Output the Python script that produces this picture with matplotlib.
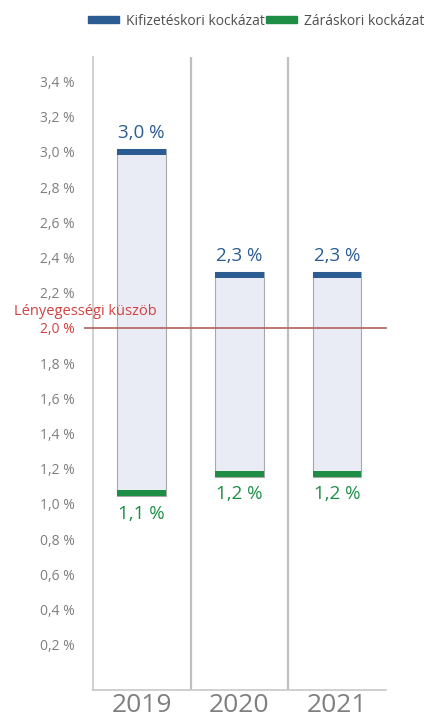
import matplotlib
matplotlib.use("Agg")
import matplotlib.pyplot as plt
from matplotlib.patches import Patch

plt.rcParams['font.family'] = ['Open Sans', 'DejaVu Sans']

years = ['2019', '2020', '2021']
kifizeteskori = [3.0, 2.3, 2.3]     # top (blue) value
zaraskori = [1.06, 1.17, 1.17]      # bottom (green) value
threshold = 2.0
yticks = [0.2, 0.4, 0.6, 0.8, 1.0, 1.2, 1.4, 1.6, 1.8, 2.0, 2.2, 2.4, 2.6, 2.8, 3.0, 3.2, 3.4]

blue = '#2B5C92'
green = '#1E8E46'
red = '#D2403F'
grey = '#7F7F7F'
cap = 0.034

fig = plt.figure(figsize=(4.34, 7.26), dpi=100)
ax = fig.add_axes([0.214, 0.0496, 0.675, 0.872])

x = list(range(len(years)))
heights = [h - l + cap for h, l in zip(kifizeteskori, zaraskori)]
bottoms = [l - cap / 2 for l in zaraskori]
ax.bar(x, heights, bottom=bottoms, width=0.5, color='#E9EBF5', edgecolor='#A8A8A8', linewidth=0.8, zorder=2)
ax.bar(x, [cap] * 3, bottom=[v - cap / 2 for v in kifizeteskori], width=0.5, color=blue, zorder=3)
ax.bar(x, [cap] * 3, bottom=[v - cap / 2 for v in zaraskori], width=0.5, color=green, zorder=3)

for xi, v in zip(x, kifizeteskori):
    ax.text(xi, v + 0.055, f"{v:.1f} %".replace('.', ','), ha='center', va='bottom',
            color=blue, fontsize=13.5)
for xi, v in zip(x, zaraskori):
    ax.text(xi, v - 0.065, f"{v:.1f} %".replace('.', ','), ha='center', va='top',
            color=green, fontsize=13.5)

# materiality threshold
ax.axhline(threshold, xmin=-0.027, xmax=1.0, color='#B86A6A', linewidth=1.3, zorder=4, clip_on=False)
ax.text(-0.024, threshold + 0.05, 'Lényegességi küszöb', transform=ax.get_yaxis_transform(),
        ha='center', va='bottom', color=red, fontsize=10.5)

# category dividers
for d in [0.5, 1.5]:
    ax.axvline(d, color='#BFBFBF', linewidth=1.6, zorder=1)

ax.set_xlim(-0.5, 2.5)
ax.set_ylim(-0.057, 3.54)
ax.set_yticks(yticks)
ax.set_yticklabels([f"{t:.1f} %".replace('.', ',') for t in yticks])
ax.set_xticks(x)
ax.set_xticklabels(years)
ax.tick_params(axis='y', length=0, pad=13, labelsize=10, labelcolor=grey)
ax.tick_params(axis='x', length=0, pad=2, labelsize=19, labelcolor=grey)
for lbl, t in zip(ax.get_yticklabels(), yticks):
    if abs(t - threshold) < 1e-9:
        lbl.set_color(red)

for s in ['top', 'right']:
    ax.spines[s].set_visible(False)
for s in ['left', 'bottom']:
    ax.spines[s].set_color('#C8C8C8')
    ax.spines[s].set_linewidth(1.2)

handles = [Patch(color=blue, label='Kifizetéskori kockázat'),
           Patch(color=green, label='Záráskori kockázat')]
fig.legend(handles=handles, loc='center', bbox_to_anchor=(0.59, 0.971), ncol=2, frameon=False,
           fontsize=10, handlelength=2.2, handleheight=0.35, handletextpad=0.5, columnspacing=0.1,
           labelcolor='#505050')

fig.savefig('out.png', dpi=100)
